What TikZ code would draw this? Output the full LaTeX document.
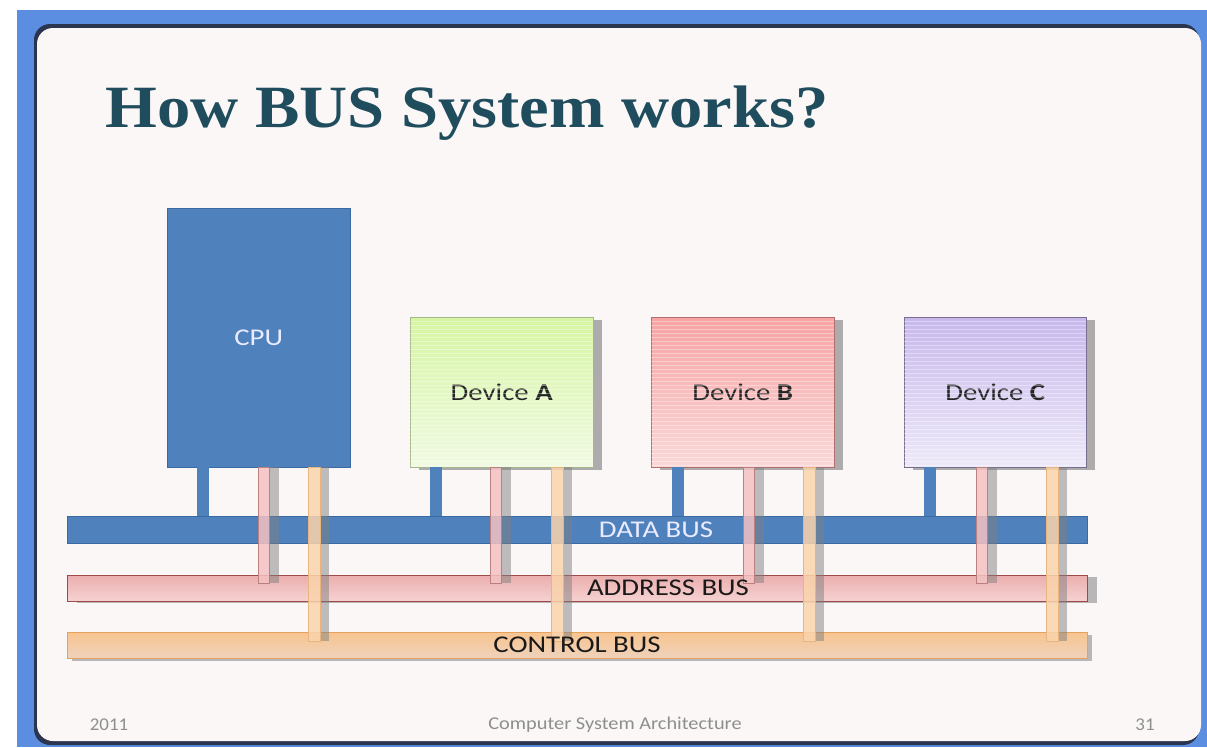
\documentclass[tikz,border=0pt]{standalone}
\usepackage{fontspec}
\usepackage{graphicx}
\setmainfont{Liberation Serif}
\newfontfamily\labelfont{Carlito}
\usetikzlibrary{positioning, calc, shadows}

\definecolor{SlideBlue}{HTML}{5B8EE0}
\definecolor{PanelEdge}{HTML}{2B3550}
\definecolor{PanelWhite}{HTML}{FBF7F7}
\definecolor{TitleTeal}{HTML}{1F4D5E}
\definecolor{BusBlue}{HTML}{4F81BD}
\definecolor{BusBlueEdge}{HTML}{3C6AA0}
\definecolor{DevATop}{HTML}{D6F5A2}
\definecolor{DevABot}{HTML}{F0FAE2}
\definecolor{DevAEdge}{HTML}{A5B88A}
\definecolor{DevBTop}{HTML}{F7A3A3}
\definecolor{DevBBot}{HTML}{FBD8D8}
\definecolor{DevBEdge}{HTML}{B07070}
\definecolor{DevCTop}{HTML}{C8B8EC}
\definecolor{DevCBot}{HTML}{EDE9F9}
\definecolor{DevCEdge}{HTML}{7A6E90}
\definecolor{AddrTop}{HTML}{EBAEAE}
\definecolor{AddrBot}{HTML}{F6D2D2}
\definecolor{AddrEdge}{HTML}{9E4A4A}
\definecolor{AddrStub}{HTML}{F4C2C2}
\definecolor{CtrlTop}{HTML}{F8C48F}
\definecolor{CtrlBot}{HTML}{EFD2BC}
\definecolor{CtrlEdge}{HTML}{E3A35F}
\definecolor{CtrlStub}{HTML}{FAD4AC}
\definecolor{FootGray}{HTML}{8E8E8E}

\newcommand{\widetext}[1]{\scalebox{1.2}[1]{#1}}

\begin{document}
\begin{tikzpicture}[x=1pt, y=-1pt,
  unitbox/.style={draw, inner sep=0pt, anchor=north west, minimum width=183pt,
    minimum height=150pt, font=\labelfont\fontsize{24}{28}\selectfont, text=black!85},
  devshadow/.style={drop shadow={shadow xshift=9pt, shadow yshift=-3pt, fill=black!45, opacity=.7}},
  busbar/.style={draw, inner sep=0pt, anchor=north west, minimum width=1020pt, minimum height=26pt},
  buslabel/.style={font=\labelfont\fontsize{24}{28}\selectfont, inner sep=0pt},
  stubshadow/.style={fill=black!50, fill opacity=.5},
  footer/.style={font=\labelfont\fontsize{18}{21}\selectfont, text=FootGray, inner sep=0pt},
  stripe/.style={white, opacity=.35, line width=.6pt}]
  \useasboundingbox (0,0) rectangle (1207,747);

  % slide frame
  \fill[SlideBlue] (17,10) rectangle (1207,747);
  \fill[PanelEdge, rounded corners=16pt] (34,24) rectangle (1199,745);
  \fill[PanelWhite, rounded corners=16pt] (37,28) rectangle (1201,741);

  % title
  \node[anchor=base west, inner sep=0pt, text=TitleTeal, font=\fontsize{60}{66}\selectfont\bfseries]
    (title) at (105,127) {\scalebox{1.11}[1]{How BUS System works?}};

  % units
  \node[unitbox, fill=BusBlue, draw=BusBlueEdge, minimum height=259pt, text=blue!8]
    (cpu) at (167,208) {\widetext{CPU}};
  \node[unitbox, devshadow, draw=DevAEdge, top color=DevATop, bottom color=DevABot]
    (deva) at (410,317) {\widetext{Device \textbf{A}}};
  \node[unitbox, devshadow, draw=DevBEdge, top color=DevBTop, bottom color=DevBBot]
    (devb) at (651,317) {\widetext{Device \textbf{B}}};
  \node[unitbox, devshadow, draw=DevCEdge, minimum width=182pt, top color=DevCTop, bottom color=DevCBot]
    (devc) at (904,317) {\widetext{Device \textbf{C}}};
  \foreach \b in {deva, devb, devc}
    \foreach \y in {321,325,...,465}
      \draw[stripe] (\b.west |- 0,\y) -- (\b.east |- 0,\y);

  % buses
  \node[busbar, fill=BusBlue, draw=BusBlueEdge, minimum height=27pt] (data) at (67,516) {};
  \node[busbar, draw=AddrEdge, top color=AddrTop, bottom color=AddrBot,
    drop shadow={shadow xshift=10pt, shadow yshift=-2pt, fill=black!45, opacity=.6}] (addr) at (67,575) {};
  \node[busbar, draw=CtrlEdge, top color=CtrlTop, bottom color=CtrlBot,
    drop shadow={shadow xshift=5pt, shadow yshift=-3pt, fill=black!45, opacity=.6}] (ctrl) at (67,632) {};

  % bus lines from each unit
  \foreach \b/\xd/\xa/\xc in {cpu/197/258/308, deva/430/490/551, devb/672/743/803, devc/924/976/1046} {
    \fill[BusBlue] (\xd,0 |- \b.south) rectangle (\xd+12,0 |- data.north);
    \fill[stubshadow] (\xa+11,0 |- \b.south) rectangle ($(\xa+21,0 |- addr.north)+(0,8)$);
    \draw[AddrEdge!70, fill=AddrStub, fill opacity=.85] (\xa,0 |- \b.south) rectangle ($(\xa+11,0 |- addr.north)+(0,8)$);
    \fill[stubshadow] (\xc+12,0 |- \b.south) rectangle ($(\xc+21,0 |- ctrl.north)+(0,9)$);
    \draw[CtrlEdge!80, fill=CtrlStub, fill opacity=.85] (\xc,0 |- \b.south) rectangle ($(\xc+12,0 |- ctrl.north)+(0,9)$);
  }

  % bus labels
  \node[buslabel, text=blue!8] (datalabel) at (data.center -| 656,0) {\widetext{DATA BUS}};
  \node[buslabel, text=black!90] (addrlabel) at (addr.center -| 668,0) {\widetext{ADDRESS BUS}};
  \node[buslabel, text=black!90] (ctrllabel) at (ctrl.center -| 577,0) {\widetext{CONTROL BUS}};

  % footer
  \node[footer] (year) at (109,725) {\scalebox{1.05}[1]{2011}};
  \node[footer] (course) at (615,725) {\scalebox{1.13}[1]{Computer System Architecture}};
  \node[footer] (page) at (1145,725) {\scalebox{1.05}[1]{31}};
\end{tikzpicture}
\end{document}
